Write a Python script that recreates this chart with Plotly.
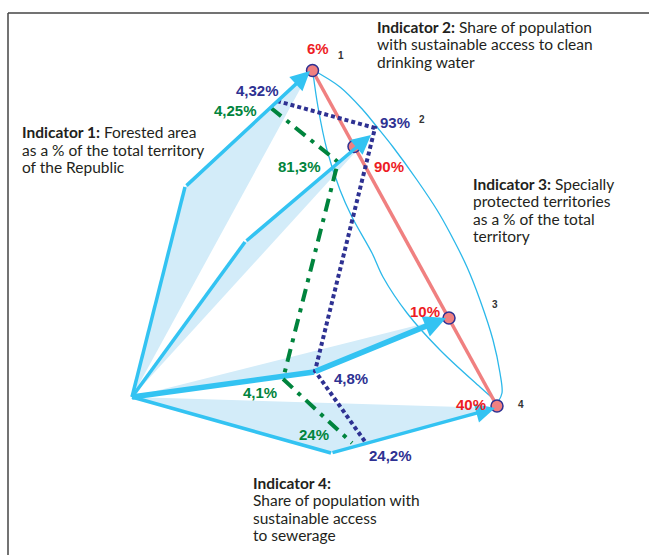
import plotly.graph_objects as go

# ---------------- data (pixel-space diagram coordinates) ----------------
origin_x = [132]
origin_y = [397]

# bend point of each indicator arrow and its tip
bend_x = [185, 245, 314, 331]
bend_y = [187, 242, 372, 453]
tip_x = [310, 371, 446, 495]
tip_y = [71, 135, 318, 408]
arrow_widths = [3.5, 3.5, 5.5, 3.5]

# target points on the red axis
point_x = [312.5, 354, 449, 497]
point_y = [70.5, 146.5, 318, 406]
point_ids = ["1", "2", "3", "4"]

red_labels = ["6%", "90%", "10%", "40%"]
navy_labels = ["4,32%", "93%", "4,8%", "24,2%"]
green_labels = ["4,25%", "81,3%", "4,1%", "24%"]

navy_path_x = [277, 375, 315, 366]
navy_path_y = [101, 128, 371, 443]
green_path_x = [271, 338, 283, 352]
green_path_y = [108, 162, 379, 443]

outer_curve_x = [313, 340, 363, 377, 393, 417, 437, 450, 467, 480, 493, 500, 502, 498]
outer_curve_y = [70, 87, 110, 127, 147, 180, 210, 233, 267, 300, 340, 373, 393, 402]
inner_curve_x = [313, 318, 327, 340, 352, 372, 383, 407, 440, 480, 497]
inner_curve_y = [73, 107, 150, 190, 217, 253, 277, 313, 350, 387, 402]

indicator_texts = [
    ["<b>Indicator 1:</b> Forested area", "as a % of the total territory", "of the Republic"],
    ["<b>Indicator 2:</b> Share of population", "with sustainable access to clean", "drinking water"],
    ["<b>Indicator 3:</b> Specially", "protected territories", "as a % of the total", "territory"],
    ["<b>Indicator 4:</b>", "Share of population with", "sustainable access", "to sewerage"],
]

# ---------------- styles ----------------
CYAN = "#33c3f2"
THIN = "#2bb8ea"
FILL = "#d3ecf9"
RED = "#ed1c24"
SALMON = "#f08080"
NAVY = "#2e3192"
GREEN = "#00843d"
TXT = "#231f20"

fig = go.Figure()

# filled wedges
for i in range(4):
    fig.add_trace(go.Scatter(
        x=[origin_x[0], bend_x[i], tip_x[i], origin_x[0]],
        y=[origin_y[0], bend_y[i], tip_y[i], origin_y[0]],
        mode="lines", fill="toself", fillcolor=FILL,
        line=dict(width=0, color=FILL), hoverinfo="skip"))

# thin curves
fig.add_trace(go.Scatter(x=outer_curve_x, y=outer_curve_y, mode="lines",
                         line=dict(color=THIN, width=1.3, shape="spline"), hoverinfo="skip"))
fig.add_trace(go.Scatter(x=inner_curve_x, y=inner_curve_y, mode="lines",
                         line=dict(color=THIN, width=1.3, shape="spline"), hoverinfo="skip"))

# red axis
fig.add_trace(go.Scatter(x=[point_x[0], point_x[-1]], y=[point_y[0], point_y[-1]], mode="lines",
                         line=dict(color=SALMON, width=3.5), hoverinfo="skip"))

# arrow first segments
for i in range(4):
    fig.add_trace(go.Scatter(x=[origin_x[0], bend_x[i]], y=[origin_y[0], bend_y[i]], mode="lines",
                             line=dict(color=CYAN, width=arrow_widths[i]), hoverinfo="skip"))

# green dash-dot and navy dotted paths
fig.add_trace(go.Scatter(x=green_path_x, y=green_path_y, mode="lines",
                         line=dict(color=GREEN, width=4, dash="13px,7px,4px,7px"), hoverinfo="skip"))
fig.add_trace(go.Scatter(x=navy_path_x, y=navy_path_y, mode="lines",
                         line=dict(color=NAVY, width=4, dash="4px,3px"), hoverinfo="skip"))

# arrow second segments with heads
for i in range(4):
    fig.add_annotation(x=tip_x[i], y=tip_y[i], ax=bend_x[i], ay=bend_y[i],
                       xref="x", yref="y", axref="x", ayref="y", text="",
                       showarrow=True, arrowhead=2, arrowsize=1.1 if i != 2 else 0.8,
                       arrowwidth=arrow_widths[i], arrowcolor=CYAN, standoff=0, startstandoff=0)

# points
fig.add_trace(go.Scatter(x=point_x, y=point_y, mode="markers",
                         marker=dict(size=12, color=SALMON, line=dict(color=NAVY, width=1.5)),
                         hoverinfo="skip"))

def label(x, y, text, color, size=15, bold=True):
    fig.add_annotation(x=x, y=y, xref="x", yref="y", showarrow=False,
                       text=f"<b>{text}</b>" if bold else text,
                       font=dict(family="Liberation Sans, Arial", size=size, color=color),
                       xanchor="center", yanchor="middle")

red_pos = [(318, 48), (389, 166), (425, 311), (471, 404)]
navy_pos = [(257, 90), (395, 122), (351, 378), (390, 455.5)]
green_pos = [(235, 110), (299, 166), (260, 392.5), (314, 434)]
id_pos = [(341, 55), (422, 119), (495, 304), (521, 404)]
for i in range(4):
    label(*red_pos[i], red_labels[i], RED)
    label(*navy_pos[i], navy_labels[i], NAVY)
    label(*green_pos[i], green_labels[i], GREEN)
    label(*id_pos[i], point_ids[i], "#333333", size=10)

block_pos = [(20, 132), (375, 26.5), (471, 183.5), (251, 482.5)]
for (bx, by), lines in zip(block_pos, indicator_texts):
    for j, line in enumerate(lines):
        fig.add_annotation(x=bx, y=by + j * 17.6, xref="x", yref="y", showarrow=False,
                           text=line, xanchor="left", yanchor="middle",
                           font=dict(family="Lato, Noto Sans, sans-serif", size=15.5, color=TXT))

# frame
fig.add_shape(type="line", x0=8, y0=13, x1=649, y1=13, xref="x", yref="y",
              line=dict(color="#444444", width=1.5))
fig.add_shape(type="line", x0=8, y0=13, x1=8, y1=555, xref="x", yref="y",
              line=dict(color="#444444", width=1.5))

fig.update_layout(
    width=649, height=555, margin=dict(l=0, r=0, t=0, b=0),
    paper_bgcolor="white", plot_bgcolor="white", showlegend=False,
    xaxis=dict(range=[0, 649], visible=False, fixedrange=True),
    yaxis=dict(range=[555, 0], visible=False, fixedrange=True),
)

fig.write_html("out.html", config={"displayModeBar": False},
               post_script="document.body.style.margin='0';document.body.style.overflow='hidden';")
